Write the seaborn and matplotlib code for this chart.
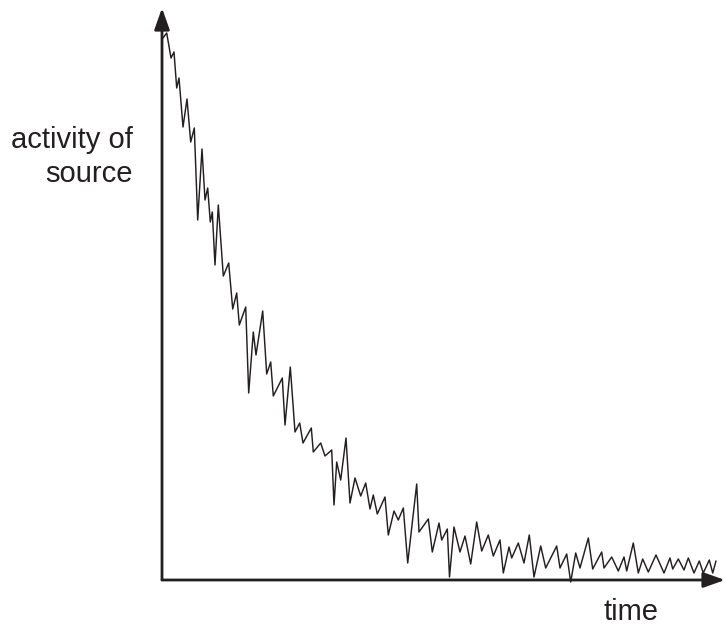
import matplotlib
matplotlib.use("Agg")
import matplotlib.pyplot as plt
import seaborn as sns
import pandas as pd

sns.set_theme(style="white")
plt.rcParams['font.family'] = ['Liberation Sans', 'DejaVu Sans']

INK = '#231f20'

# (arbitrary units)
time = [1, 4.7, 9, 12, 14.7, 17, 21, 25, 28.7, 32.3,
        35.7, 40, 43, 45.7, 48.3, 50.3, 53, 56.3, 61.3, 66.7,
        70.7, 74.7, 77.3, 83.7, 86.7, 91.3, 94, 100.7, 104.7, 108.7,
        111.3, 120.3, 123, 128.3, 133, 137.7, 141, 149.3, 151.3, 158.7,
        163, 169.7, 172, 174.7, 178.7, 184, 188, 193, 198.7, 203.7,
        208, 211.3, 215.3, 223, 226.3, 232, 236.3, 241.3, 245.7, 254.7,
        257, 266.3, 270.3, 277, 279.7, 285.3, 287.5, 292, 298, 303,
        308.7, 314.7, 319.7, 326.3, 331.3, 338, 341.3, 347, 349.7, 356.3,
        362, 367.3, 372, 378.7, 383.7, 394.7, 398, 404.7, 408.7, 413.7,
        418, 426.3, 430.7, 439.7, 442, 449.7, 456.3, 462, 464.7, 471.3,
        476.3, 480.7, 486.3, 494, 502, 508, 510.7, 516.3, 522, 526.3,
        532, 537.3, 541.3, 547.3, 550.7, 554]

activity = [542, 547, 522, 528, 492, 502, 453, 481, 438, 452,
            360, 431, 380, 392, 358, 368, 315, 375, 304, 317,
            271, 287, 255, 273, 187, 248, 225, 269, 206, 218,
            184, 202, 155, 213, 148, 157, 137, 152, 128, 137,
            124, 130, 75, 118, 100, 142, 77, 102, 84, 97,
            71, 85, 66, 83, 45, 69, 60, 72, 17, 96,
            48, 61, 28, 57, 40, 51, 3, 53, 28, 44,
            16, 58, 29, 45, 24, 40, 7, 33, 22, 37,
            17, 45, 3, 34, 12, 34, 12, 26, -2, 27,
            12, 42, 11, 28, 12, 23, 9, 23, 9, 37,
            7, 21, 8, 25, 7, 22, 11, 21, 10, 22,
            7, 19, 7, 20, 7, 19]

x_label = "time"
y_label_lines = ["activity of", "source"]

df = pd.DataFrame({"time": time, "activity": activity})

W, H = 725, 625
fig = plt.figure(figsize=(W / 100, H / 100), dpi=100)
ax = fig.add_axes([162 / W, 45 / H, (W - 162) / W, (625 - 45 - 8) / H])
ax.set_xlim(0, W - 162)
ax.set_ylim(0, 625 - 45 - 8)

sns.lineplot(data=df, x="time", y="activity", ax=ax, color=INK, lw=1.05,
             estimator=None, sort=False, clip_on=False)

for s in ax.spines.values():
    s.set_visible(False)
ax.set_xticks([])
ax.set_yticks([])
ax.set_xlabel("")
ax.set_ylabel("")
ax.patch.set_alpha(0)

arrow = dict(arrowstyle='-|>,head_length=0.65,head_width=0.23', lw=2.0,
             color=INK, shrinkA=0, shrinkB=0, mutation_scale=20)
ax.annotate('', xy=(1, 0), xytext=(0, 0), xycoords='axes fraction',
            textcoords='axes fraction', arrowprops=arrow, annotation_clip=False)
ax.annotate('', xy=(0, 1), xytext=(0, 0), xycoords='axes fraction',
            textcoords='axes fraction', arrowprops=arrow, annotation_clip=False)

fig.text(133 / W, 1 - 148 / H, y_label_lines[0], ha='right', va='baseline',
         fontsize=21, color=INK)
fig.text(133 / W, 1 - 182 / H, y_label_lines[1], ha='right', va='baseline',
         fontsize=21, color=INK)
fig.text(631 / W, 1 - 620 / H, x_label, ha='center', va='baseline',
         fontsize=21, color=INK)

fig.savefig("out.png", dpi=100, facecolor='white')
